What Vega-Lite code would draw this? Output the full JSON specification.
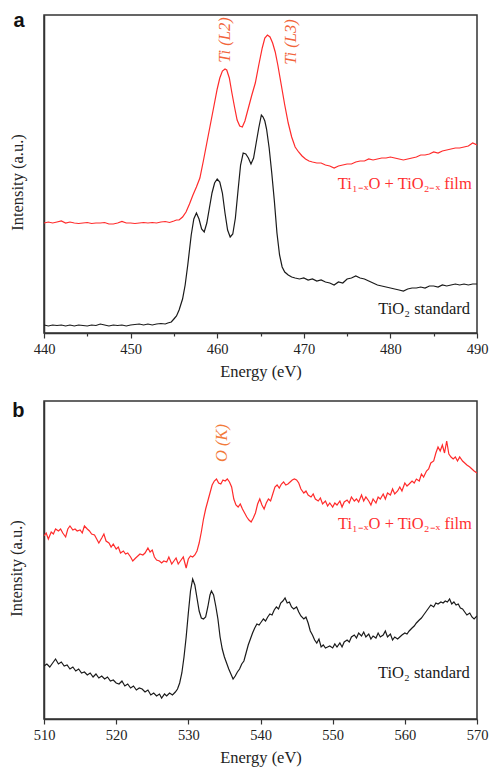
{
  "$schema": "https://vega.github.io/schema/vega-lite/v6.json",
  "padding": {"left": 8, "top": 9, "right": 5, "bottom": 5},
  "bounds": "flush",
  "spacing": 68,
  "background": "white",
  "config": {
    "view": {"stroke": "#333333", "strokeWidth": 1.5},
    "axis": {
      "grid": false,
      "domainColor": "#333333",
      "domainWidth": 1.5,
      "tickColor": "#333333",
      "tickWidth": 1.2,
      "labelFont": "Liberation Serif",
      "labelFontSize": 14.5,
      "labelColor": "#222222",
      "titleFont": "Liberation Serif",
      "titleFontSize": 16.5,
      "titleFontWeight": "normal",
      "titleColor": "#222222"
    },
    "text": {"font": "Liberation Serif", "fontSize": 16.5}
  },
  "vconcat": [
    {
      "width": 433,
      "height": 318,
      "layer": [
        {
          "data": {"values": [
            {"s":"std","E":440,"v":8},{"s":"std","E":440.5,"v":7},{"s":"std","E":441,"v":8},{"s":"std","E":441.5,"v":7.5},{"s":"std","E":442,"v":8},{"s":"std","E":442.5,"v":7},{"s":"std","E":443,"v":8},{"s":"std","E":443.5,"v":7},{"s":"std","E":444,"v":8},{"s":"std","E":444.5,"v":7.5},{"s":"std","E":445,"v":7},{"s":"std","E":445.5,"v":8},{"s":"std","E":446,"v":7.5},{"s":"std","E":446.5,"v":9},{"s":"std","E":447,"v":8},{"s":"std","E":447.5,"v":7},{"s":"std","E":448,"v":8},{"s":"std","E":448.5,"v":7.5},{"s":"std","E":449,"v":8},{"s":"std","E":449.5,"v":7},{"s":"std","E":450,"v":8},{"s":"std","E":450.5,"v":8.5},{"s":"std","E":451,"v":9},{"s":"std","E":451.5,"v":8},{"s":"std","E":452,"v":9},{"s":"std","E":452.5,"v":8},{"s":"std","E":453,"v":9},{"s":"std","E":453.5,"v":9.5},{"s":"std","E":454,"v":9},{"s":"std","E":454.3,"v":10},{"s":"std","E":454.7,"v":11},{"s":"std","E":455,"v":14},{"s":"std","E":455.3,"v":17},{"s":"std","E":455.6,"v":23},{"s":"std","E":456,"v":34},{"s":"std","E":456.3,"v":48},{"s":"std","E":456.6,"v":68},{"s":"std","E":457,"v":98},{"s":"std","E":457.3,"v":114},{"s":"std","E":457.6,"v":120},{"s":"std","E":457.9,"v":114},{"s":"std","E":458.2,"v":104},{"s":"std","E":458.5,"v":101},{"s":"std","E":458.8,"v":110},{"s":"std","E":459.1,"v":125},{"s":"std","E":459.4,"v":140},{"s":"std","E":459.7,"v":150},{"s":"std","E":460,"v":154},{"s":"std","E":460.3,"v":151},{"s":"std","E":460.6,"v":140},{"s":"std","E":460.9,"v":120},{"s":"std","E":461.2,"v":103},{"s":"std","E":461.5,"v":96},{"s":"std","E":461.8,"v":99},{"s":"std","E":462.1,"v":115},{"s":"std","E":462.4,"v":142},{"s":"std","E":462.7,"v":168},{"s":"std","E":463,"v":180},{"s":"std","E":463.3,"v":179},{"s":"std","E":463.6,"v":175},{"s":"std","E":463.9,"v":169},{"s":"std","E":464.2,"v":175},{"s":"std","E":464.5,"v":190},{"s":"std","E":464.8,"v":205},{"s":"std","E":465.1,"v":218},{"s":"std","E":465.3,"v":216},{"s":"std","E":465.5,"v":212},{"s":"std","E":465.7,"v":204},{"s":"std","E":466,"v":185},{"s":"std","E":466.3,"v":160},{"s":"std","E":466.6,"v":132},{"s":"std","E":466.9,"v":100},{"s":"std","E":467.2,"v":78},{"s":"std","E":467.5,"v":66},{"s":"std","E":467.8,"v":61},{"s":"std","E":468.2,"v":58},{"s":"std","E":468.6,"v":56},{"s":"std","E":469,"v":55},{"s":"std","E":469.5,"v":54},{"s":"std","E":470,"v":55},{"s":"std","E":470.5,"v":53},{"s":"std","E":471,"v":54},{"s":"std","E":471.5,"v":52},{"s":"std","E":472,"v":53},{"s":"std","E":472.5,"v":51},{"s":"std","E":473,"v":50},{"s":"std","E":473.5,"v":48},{"s":"std","E":474,"v":51},{"s":"std","E":474.5,"v":50},{"s":"std","E":475,"v":54},{"s":"std","E":475.5,"v":55},{"s":"std","E":476,"v":57},{"s":"std","E":476.5,"v":55},{"s":"std","E":477,"v":54},{"s":"std","E":477.5,"v":52},{"s":"std","E":478,"v":50},{"s":"std","E":478.5,"v":48},{"s":"std","E":479,"v":47},{"s":"std","E":479.5,"v":46},{"s":"std","E":480,"v":45},{"s":"std","E":480.5,"v":44},{"s":"std","E":481,"v":43},{"s":"std","E":481.5,"v":42},{"s":"std","E":482,"v":44},{"s":"std","E":482.5,"v":45},{"s":"std","E":483,"v":45},{"s":"std","E":483.5,"v":46},{"s":"std","E":484,"v":45},{"s":"std","E":484.5,"v":47},{"s":"std","E":485,"v":47},{"s":"std","E":485.5,"v":46},{"s":"std","E":486,"v":48},{"s":"std","E":486.5,"v":47},{"s":"std","E":487,"v":48},{"s":"std","E":487.5,"v":49},{"s":"std","E":488,"v":48},{"s":"std","E":488.5,"v":49},{"s":"std","E":489,"v":48},{"s":"std","E":489.5,"v":49},{"s":"std","E":490,"v":49},
            {"s":"film","E":440,"v":110},{"s":"film","E":440.5,"v":111},{"s":"film","E":441,"v":110},{"s":"film","E":441.5,"v":111},{"s":"film","E":442,"v":112},{"s":"film","E":442.5,"v":110},{"s":"film","E":443,"v":111},{"s":"film","E":443.5,"v":110},{"s":"film","E":444,"v":109.5},{"s":"film","E":444.5,"v":110},{"s":"film","E":445,"v":110.5},{"s":"film","E":445.5,"v":109.5},{"s":"film","E":446,"v":110},{"s":"film","E":446.5,"v":110},{"s":"film","E":447,"v":110.5},{"s":"film","E":447.5,"v":109},{"s":"film","E":448,"v":109},{"s":"film","E":448.5,"v":110},{"s":"film","E":449,"v":111.5},{"s":"film","E":449.5,"v":110},{"s":"film","E":450,"v":110},{"s":"film","E":450.5,"v":109.5},{"s":"film","E":451,"v":110},{"s":"film","E":451.5,"v":110.5},{"s":"film","E":452,"v":110},{"s":"film","E":452.5,"v":110.5},{"s":"film","E":453,"v":110},{"s":"film","E":453.5,"v":111},{"s":"film","E":454,"v":111.5},{"s":"film","E":454.5,"v":110.5},{"s":"film","E":455,"v":112},{"s":"film","E":455.3,"v":113},{"s":"film","E":455.6,"v":113},{"s":"film","E":456,"v":116},{"s":"film","E":456.4,"v":121},{"s":"film","E":456.8,"v":129},{"s":"film","E":457.2,"v":138},{"s":"film","E":457.6,"v":146},{"s":"film","E":458,"v":155},{"s":"film","E":458.4,"v":172},{"s":"film","E":458.8,"v":190},{"s":"film","E":459.2,"v":208},{"s":"film","E":459.6,"v":226},{"s":"film","E":460,"v":244},{"s":"film","E":460.3,"v":255},{"s":"film","E":460.6,"v":262},{"s":"film","E":460.9,"v":264},{"s":"film","E":461.1,"v":263},{"s":"film","E":461.4,"v":255},{"s":"film","E":461.7,"v":240},{"s":"film","E":462,"v":226},{"s":"film","E":462.3,"v":213},{"s":"film","E":462.6,"v":207},{"s":"film","E":462.9,"v":206},{"s":"film","E":463.2,"v":212},{"s":"film","E":463.6,"v":225},{"s":"film","E":464,"v":238},{"s":"film","E":464.4,"v":250},{"s":"film","E":464.8,"v":268},{"s":"film","E":465.2,"v":285},{"s":"film","E":465.5,"v":295},{"s":"film","E":465.8,"v":298},{"s":"film","E":466.1,"v":296},{"s":"film","E":466.4,"v":290},{"s":"film","E":466.7,"v":281},{"s":"film","E":467,"v":268},{"s":"film","E":467.4,"v":248},{"s":"film","E":467.8,"v":228},{"s":"film","E":468.2,"v":210},{"s":"film","E":468.6,"v":196},{"s":"film","E":469,"v":186},{"s":"film","E":469.4,"v":181},{"s":"film","E":469.8,"v":177},{"s":"film","E":470.2,"v":174},{"s":"film","E":470.6,"v":172},{"s":"film","E":471,"v":171},{"s":"film","E":471.5,"v":170},{"s":"film","E":472,"v":170},{"s":"film","E":472.5,"v":168},{"s":"film","E":473,"v":167},{"s":"film","E":473.5,"v":165},{"s":"film","E":474,"v":167},{"s":"film","E":474.5,"v":168},{"s":"film","E":475,"v":169},{"s":"film","E":475.5,"v":169},{"s":"film","E":476,"v":171},{"s":"film","E":476.5,"v":172},{"s":"film","E":477,"v":172},{"s":"film","E":477.5,"v":174},{"s":"film","E":478,"v":173},{"s":"film","E":478.5,"v":174},{"s":"film","E":479,"v":175},{"s":"film","E":479.5,"v":175},{"s":"film","E":480,"v":176},{"s":"film","E":480.5,"v":175},{"s":"film","E":481,"v":174},{"s":"film","E":481.5,"v":173},{"s":"film","E":482,"v":174},{"s":"film","E":482.5,"v":175},{"s":"film","E":483,"v":176},{"s":"film","E":483.5,"v":178},{"s":"film","E":484,"v":178},{"s":"film","E":484.5,"v":179},{"s":"film","E":485,"v":181},{"s":"film","E":485.5,"v":180},{"s":"film","E":486,"v":182},{"s":"film","E":486.5,"v":183},{"s":"film","E":487,"v":184},{"s":"film","E":487.5,"v":185},{"s":"film","E":488,"v":185},{"s":"film","E":488.5,"v":186},{"s":"film","E":489,"v":187},{"s":"film","E":489.5,"v":190},{"s":"film","E":490,"v":188}
          ]},
          "mark": {"type": "line", "strokeWidth": 1.2, "clip": true},
          "encoding": {
            "x": {"field": "E", "type": "quantitative", "scale": {"domain": [440, 490], "nice": false, "zero": false},
                  "axis": {"title": "Energy (eV)", "values": [440,445,450,455,460,465,470,475,480,485,490], "labelExpr": "datum.value % 10 === 0 ? datum.label : ''", "tickSize": {"condition": {"test": "datum.value % 10 === 0", "value": 5}, "value": 3}, "labelPadding": 4, "titlePadding": 8, "labelFlush": false}},
            "y": {"field": "v", "type": "quantitative", "scale": {"domain": [0, 318], "nice": false},
                  "axis": {"title": "Intensity (a.u.)", "values": [307], "labelExpr": "'a'", "labelFont": "Liberation Sans", "labelFontWeight": "bold", "labelFontSize": 20, "labelColor": "#111111", "labelBaseline": "alphabetic", "labelPadding": 20, "ticks": false, "tickSize": 0, "titlePadding": -13, "titleY": 167}},
            "color": {"field": "s", "type": "nominal", "scale": {"domain": ["film", "std"], "range": ["#ff2b2b", "#1a1a1a"]}, "legend": null}
          }
        },
        {
          "data": {"values": [{"t": "Ti (L2)", "E": 460.9, "v": 293}, {"t": "Ti (L3)", "E": 468.5, "v": 291}]},
          "mark": {"type": "text", "angle": 270, "align": "center", "baseline": "middle", "fontStyle": "italic", "color": "#f2643a"},
          "encoding": {"x": {"field": "E", "type": "quantitative"}, "y": {"field": "v", "type": "quantitative"}, "text": {"field": "t"}}
        },
        {
          "data": {"values": [{"t": "Ti₁₋ₓO + TiO₂₋ₓ film", "E": 489.4, "v": 144, "c": "#ff3030"}, {"t": "TiO₂ standard", "E": 489.2, "v": 19, "c": "#1a1a1a"}]},
          "mark": {"type": "text", "align": "right", "baseline": "alphabetic"},
          "encoding": {"x": {"field": "E", "type": "quantitative"}, "y": {"field": "v", "type": "quantitative"}, "text": {"field": "t"}, "color": {"field": "c", "type": "nominal", "scale": null}}
        }
      ]
    },
    {
      "width": 433,
      "height": 318,
      "layer": [
        {
          "data": {"values": [
            {"s":"std","E":510,"v":53},{"s":"std","E":510.4,"v":55},{"s":"std","E":510.8,"v":52},{"s":"std","E":511.2,"v":56},{"s":"std","E":511.6,"v":60},{"s":"std","E":512,"v":55},{"s":"std","E":512.4,"v":57},{"s":"std","E":512.8,"v":53},{"s":"std","E":513.2,"v":54},{"s":"std","E":513.6,"v":50},{"s":"std","E":514,"v":52},{"s":"std","E":514.4,"v":48},{"s":"std","E":514.8,"v":50},{"s":"std","E":515.2,"v":46},{"s":"std","E":515.6,"v":47},{"s":"std","E":516,"v":44},{"s":"std","E":516.4,"v":46},{"s":"std","E":516.8,"v":42},{"s":"std","E":517.2,"v":45},{"s":"std","E":517.6,"v":41},{"s":"std","E":518,"v":43},{"s":"std","E":518.4,"v":40},{"s":"std","E":518.8,"v":42},{"s":"std","E":519.2,"v":38},{"s":"std","E":519.6,"v":39},{"s":"std","E":520,"v":36},{"s":"std","E":520.4,"v":35},{"s":"std","E":520.8,"v":38},{"s":"std","E":521.2,"v":33},{"s":"std","E":521.6,"v":35},{"s":"std","E":522,"v":31},{"s":"std","E":522.4,"v":33},{"s":"std","E":522.8,"v":29},{"s":"std","E":523.2,"v":31},{"s":"std","E":523.6,"v":30},{"s":"std","E":524,"v":27},{"s":"std","E":524.4,"v":29},{"s":"std","E":524.8,"v":24},{"s":"std","E":525.2,"v":26},{"s":"std","E":525.6,"v":23},{"s":"std","E":526,"v":25},{"s":"std","E":526.3,"v":21},{"s":"std","E":526.7,"v":25},{"s":"std","E":527,"v":23},{"s":"std","E":527.4,"v":26},{"s":"std","E":527.8,"v":24},{"s":"std","E":528.2,"v":27},{"s":"std","E":528.5,"v":30},{"s":"std","E":528.8,"v":36},{"s":"std","E":529.1,"v":46},{"s":"std","E":529.4,"v":62},{"s":"std","E":529.7,"v":82},{"s":"std","E":530,"v":106},{"s":"std","E":530.3,"v":128},{"s":"std","E":530.6,"v":140},{"s":"std","E":530.9,"v":134},{"s":"std","E":531.2,"v":121},{"s":"std","E":531.5,"v":108},{"s":"std","E":531.8,"v":101},{"s":"std","E":532.1,"v":100},{"s":"std","E":532.4,"v":102},{"s":"std","E":532.7,"v":112},{"s":"std","E":533,"v":124},{"s":"std","E":533.2,"v":128},{"s":"std","E":533.5,"v":124},{"s":"std","E":533.8,"v":113},{"s":"std","E":534.1,"v":100},{"s":"std","E":534.4,"v":82},{"s":"std","E":534.7,"v":70},{"s":"std","E":535,"v":62},{"s":"std","E":535.3,"v":56},{"s":"std","E":535.6,"v":50},{"s":"std","E":535.9,"v":45},{"s":"std","E":536.2,"v":40},{"s":"std","E":536.5,"v":43},{"s":"std","E":536.8,"v":47},{"s":"std","E":537.1,"v":50},{"s":"std","E":537.4,"v":55},{"s":"std","E":537.7,"v":58},{"s":"std","E":538,"v":66},{"s":"std","E":538.3,"v":74},{"s":"std","E":538.6,"v":80},{"s":"std","E":538.9,"v":86},{"s":"std","E":539.2,"v":91},{"s":"std","E":539.5,"v":95},{"s":"std","E":539.8,"v":94},{"s":"std","E":540.1,"v":97},{"s":"std","E":540.4,"v":100},{"s":"std","E":540.7,"v":98},{"s":"std","E":541,"v":102},{"s":"std","E":541.3,"v":105},{"s":"std","E":541.6,"v":104},{"s":"std","E":541.9,"v":109},{"s":"std","E":542.2,"v":112},{"s":"std","E":542.5,"v":110},{"s":"std","E":542.8,"v":116},{"s":"std","E":543.1,"v":118},{"s":"std","E":543.4,"v":121},{"s":"std","E":543.7,"v":116},{"s":"std","E":544,"v":117},{"s":"std","E":544.3,"v":112},{"s":"std","E":544.6,"v":110},{"s":"std","E":545,"v":112},{"s":"std","E":545.3,"v":107},{"s":"std","E":545.6,"v":103},{"s":"std","E":546,"v":100},{"s":"std","E":546.3,"v":102},{"s":"std","E":546.6,"v":96},{"s":"std","E":546.9,"v":88},{"s":"std","E":547.2,"v":84},{"s":"std","E":547.5,"v":79},{"s":"std","E":547.8,"v":76},{"s":"std","E":548.1,"v":80},{"s":"std","E":548.4,"v":72},{"s":"std","E":548.7,"v":74},{"s":"std","E":549,"v":71},{"s":"std","E":549.3,"v":72},{"s":"std","E":549.6,"v":73},{"s":"std","E":550,"v":71},{"s":"std","E":550.3,"v":75},{"s":"std","E":550.6,"v":72},{"s":"std","E":551,"v":76},{"s":"std","E":551.3,"v":72},{"s":"std","E":551.6,"v":77},{"s":"std","E":552,"v":79},{"s":"std","E":552.3,"v":77},{"s":"std","E":552.6,"v":82},{"s":"std","E":553,"v":84},{"s":"std","E":553.3,"v":81},{"s":"std","E":553.6,"v":86},{"s":"std","E":554,"v":83},{"s":"std","E":554.3,"v":87},{"s":"std","E":554.6,"v":82},{"s":"std","E":555,"v":85},{"s":"std","E":555.3,"v":80},{"s":"std","E":555.6,"v":83},{"s":"std","E":556,"v":81},{"s":"std","E":556.3,"v":86},{"s":"std","E":556.6,"v":82},{"s":"std","E":557,"v":84},{"s":"std","E":557.3,"v":88},{"s":"std","E":557.6,"v":82},{"s":"std","E":558,"v":85},{"s":"std","E":558.3,"v":79},{"s":"std","E":558.6,"v":82},{"s":"std","E":559,"v":80},{"s":"std","E":559.3,"v":82},{"s":"std","E":559.6,"v":84},{"s":"std","E":560,"v":86},{"s":"std","E":560.3,"v":85},{"s":"std","E":560.6,"v":88},{"s":"std","E":561,"v":91},{"s":"std","E":561.3,"v":93},{"s":"std","E":561.6,"v":96},{"s":"std","E":562,"v":99},{"s":"std","E":562.3,"v":101},{"s":"std","E":562.6,"v":104},{"s":"std","E":563,"v":108},{"s":"std","E":563.3,"v":111},{"s":"std","E":563.6,"v":114},{"s":"std","E":564,"v":112},{"s":"std","E":564.3,"v":116},{"s":"std","E":564.6,"v":115},{"s":"std","E":565,"v":117},{"s":"std","E":565.3,"v":116},{"s":"std","E":565.6,"v":118},{"s":"std","E":565.9,"v":117},{"s":"std","E":566.2,"v":120},{"s":"std","E":566.5,"v":115},{"s":"std","E":566.8,"v":117},{"s":"std","E":567.1,"v":114},{"s":"std","E":567.4,"v":115},{"s":"std","E":567.7,"v":111},{"s":"std","E":568,"v":110},{"s":"std","E":568.3,"v":107},{"s":"std","E":568.6,"v":104},{"s":"std","E":569,"v":106},{"s":"std","E":569.3,"v":102},{"s":"std","E":569.6,"v":100},{"s":"std","E":570,"v":103},
            {"s":"film","E":510,"v":183},{"s":"film","E":510.3,"v":186},{"s":"film","E":510.6,"v":180},{"s":"film","E":511,"v":187},{"s":"film","E":511.3,"v":185},{"s":"film","E":511.6,"v":190},{"s":"film","E":512,"v":188},{"s":"film","E":512.3,"v":190},{"s":"film","E":512.6,"v":186},{"s":"film","E":513,"v":182},{"s":"film","E":513.3,"v":190},{"s":"film","E":513.6,"v":193},{"s":"film","E":514,"v":189},{"s":"film","E":514.3,"v":190},{"s":"film","E":514.6,"v":188},{"s":"film","E":515,"v":189},{"s":"film","E":515.3,"v":186},{"s":"film","E":515.6,"v":193},{"s":"film","E":516,"v":190},{"s":"film","E":516.3,"v":188},{"s":"film","E":516.6,"v":185},{"s":"film","E":517,"v":184},{"s":"film","E":517.3,"v":180},{"s":"film","E":517.6,"v":176},{"s":"film","E":518,"v":181},{"s":"film","E":518.3,"v":185},{"s":"film","E":518.6,"v":178},{"s":"film","E":519,"v":176},{"s":"film","E":519.3,"v":172},{"s":"film","E":519.6,"v":175},{"s":"film","E":520,"v":170},{"s":"film","E":520.3,"v":172},{"s":"film","E":520.6,"v":166},{"s":"film","E":521,"v":168},{"s":"film","E":521.3,"v":165},{"s":"film","E":521.6,"v":166},{"s":"film","E":522,"v":162},{"s":"film","E":522.3,"v":158},{"s":"film","E":522.7,"v":161},{"s":"film","E":523,"v":163},{"s":"film","E":523.3,"v":165},{"s":"film","E":523.7,"v":164},{"s":"film","E":524,"v":166},{"s":"film","E":524.4,"v":171},{"s":"film","E":524.7,"v":167},{"s":"film","E":525,"v":169},{"s":"film","E":525.3,"v":162},{"s":"film","E":525.6,"v":159},{"s":"film","E":526,"v":158},{"s":"film","E":526.3,"v":156},{"s":"film","E":526.6,"v":158},{"s":"film","E":527,"v":157},{"s":"film","E":527.3,"v":162},{"s":"film","E":527.7,"v":155},{"s":"film","E":528,"v":158},{"s":"film","E":528.3,"v":161},{"s":"film","E":528.6,"v":155},{"s":"film","E":529,"v":159},{"s":"film","E":529.3,"v":162},{"s":"film","E":529.7,"v":151},{"s":"film","E":530,"v":160},{"s":"film","E":530.3,"v":163},{"s":"film","E":530.6,"v":162},{"s":"film","E":530.9,"v":164},{"s":"film","E":531.2,"v":168},{"s":"film","E":531.5,"v":176},{"s":"film","E":531.8,"v":187},{"s":"film","E":532.1,"v":200},{"s":"film","E":532.4,"v":210},{"s":"film","E":532.7,"v":218},{"s":"film","E":533,"v":226},{"s":"film","E":533.3,"v":234},{"s":"film","E":533.6,"v":238},{"s":"film","E":533.9,"v":240},{"s":"film","E":534.2,"v":236},{"s":"film","E":534.5,"v":235},{"s":"film","E":534.8,"v":239},{"s":"film","E":535.1,"v":238},{"s":"film","E":535.4,"v":240},{"s":"film","E":535.7,"v":237},{"s":"film","E":536,"v":232},{"s":"film","E":536.3,"v":220},{"s":"film","E":536.6,"v":214},{"s":"film","E":536.9,"v":212},{"s":"film","E":537.2,"v":215},{"s":"film","E":537.5,"v":210},{"s":"film","E":537.8,"v":206},{"s":"film","E":538.1,"v":202},{"s":"film","E":538.4,"v":199},{"s":"film","E":538.7,"v":197},{"s":"film","E":539,"v":201},{"s":"film","E":539.3,"v":206},{"s":"film","E":539.6,"v":215},{"s":"film","E":539.9,"v":220},{"s":"film","E":540.2,"v":214},{"s":"film","E":540.5,"v":210},{"s":"film","E":540.8,"v":216},{"s":"film","E":541.1,"v":220},{"s":"film","E":541.4,"v":218},{"s":"film","E":541.7,"v":225},{"s":"film","E":542,"v":232},{"s":"film","E":542.3,"v":234},{"s":"film","E":542.6,"v":231},{"s":"film","E":542.9,"v":235},{"s":"film","E":543.2,"v":237},{"s":"film","E":543.5,"v":234},{"s":"film","E":543.8,"v":235},{"s":"film","E":544.1,"v":237},{"s":"film","E":544.4,"v":239},{"s":"film","E":544.7,"v":240},{"s":"film","E":545,"v":239},{"s":"film","E":545.3,"v":236},{"s":"film","E":545.6,"v":230},{"s":"film","E":546,"v":226},{"s":"film","E":546.3,"v":228},{"s":"film","E":546.6,"v":224},{"s":"film","E":547,"v":222},{"s":"film","E":547.3,"v":225},{"s":"film","E":547.6,"v":220},{"s":"film","E":548,"v":218},{"s":"film","E":548.3,"v":221},{"s":"film","E":548.6,"v":215},{"s":"film","E":549,"v":218},{"s":"film","E":549.3,"v":213},{"s":"film","E":549.6,"v":216},{"s":"film","E":550,"v":212},{"s":"film","E":550.3,"v":216},{"s":"film","E":550.6,"v":214},{"s":"film","E":551,"v":218},{"s":"film","E":551.3,"v":212},{"s":"film","E":551.6,"v":217},{"s":"film","E":552,"v":219},{"s":"film","E":552.3,"v":216},{"s":"film","E":552.6,"v":222},{"s":"film","E":553,"v":218},{"s":"film","E":553.3,"v":220},{"s":"film","E":553.6,"v":217},{"s":"film","E":554,"v":224},{"s":"film","E":554.3,"v":218},{"s":"film","E":554.6,"v":222},{"s":"film","E":555,"v":218},{"s":"film","E":555.3,"v":214},{"s":"film","E":555.6,"v":220},{"s":"film","E":556,"v":216},{"s":"film","E":556.3,"v":222},{"s":"film","E":556.6,"v":220},{"s":"film","E":557,"v":225},{"s":"film","E":557.3,"v":220},{"s":"film","E":557.6,"v":226},{"s":"film","E":558,"v":224},{"s":"film","E":558.3,"v":230},{"s":"film","E":558.6,"v":225},{"s":"film","E":559,"v":228},{"s":"film","E":559.3,"v":232},{"s":"film","E":559.6,"v":228},{"s":"film","E":560,"v":236},{"s":"film","E":560.3,"v":233},{"s":"film","E":560.6,"v":235},{"s":"film","E":561,"v":238},{"s":"film","E":561.3,"v":236},{"s":"film","E":561.6,"v":240},{"s":"film","E":562,"v":238},{"s":"film","E":562.3,"v":245},{"s":"film","E":562.6,"v":242},{"s":"film","E":563,"v":248},{"s":"film","E":563.3,"v":250},{"s":"film","E":563.6,"v":256},{"s":"film","E":564,"v":258},{"s":"film","E":564.3,"v":266},{"s":"film","E":564.6,"v":272},{"s":"film","E":564.9,"v":268},{"s":"film","E":565.2,"v":274},{"s":"film","E":565.5,"v":266},{"s":"film","E":565.8,"v":278},{"s":"film","E":566.1,"v":265},{"s":"film","E":566.4,"v":262},{"s":"film","E":566.7,"v":260},{"s":"film","E":567,"v":262},{"s":"film","E":567.3,"v":258},{"s":"film","E":567.6,"v":262},{"s":"film","E":568,"v":258},{"s":"film","E":568.3,"v":256},{"s":"film","E":568.6,"v":254},{"s":"film","E":569,"v":252},{"s":"film","E":569.3,"v":250},{"s":"film","E":569.6,"v":248},{"s":"film","E":570,"v":246}
          ]},
          "mark": {"type": "line", "strokeWidth": 1.2, "clip": true},
          "encoding": {
            "x": {"field": "E", "type": "quantitative", "scale": {"domain": [510, 570], "nice": false, "zero": false},
                  "axis": {"title": "Energy (eV)", "values": [510,515,520,525,530,535,540,545,550,555,560,565,570], "labelExpr": "datum.value % 10 === 0 ? datum.label : ''", "tickSize": {"condition": {"test": "datum.value % 10 === 0", "value": 5}, "value": 3}, "labelPadding": 4, "titlePadding": 8, "labelFlush": false}},
            "y": {"field": "v", "type": "quantitative", "scale": {"domain": [0, 318], "nice": false},
                  "axis": {"title": "Intensity (a.u.)", "values": [303], "labelExpr": "'b'", "labelFont": "Liberation Sans", "labelFontWeight": "bold", "labelFontSize": 20, "labelColor": "#111111", "labelBaseline": "alphabetic", "labelPadding": 20, "ticks": false, "tickSize": 0, "titlePadding": -13, "titleY": 167}},
            "color": {"field": "s", "type": "nominal", "scale": {"domain": ["film", "std"], "range": ["#ff2b2b", "#1a1a1a"]}, "legend": null}
          }
        },
        {
          "data": {"values": [{"t": "O (K)", "E": 534.6, "v": 276}]},
          "mark": {"type": "text", "angle": 270, "align": "center", "baseline": "middle", "fontStyle": "italic", "color": "#f27a3a"},
          "encoding": {"x": {"field": "E", "type": "quantitative"}, "y": {"field": "v", "type": "quantitative"}, "text": {"field": "t"}}
        },
        {
          "data": {"values": [{"t": "Ti₁₋ₓO + TiO₂₋ₓ film", "E": 569.3, "v": 190, "c": "#ff3030"}, {"t": "TiO₂ standard", "E": 569.0, "v": 41, "c": "#1a1a1a"}]},
          "mark": {"type": "text", "align": "right", "baseline": "alphabetic"},
          "encoding": {"x": {"field": "E", "type": "quantitative"}, "y": {"field": "v", "type": "quantitative"}, "text": {"field": "t"}, "color": {"field": "c", "type": "nominal", "scale": null}}
        }
      ]
    }
  ]
}
